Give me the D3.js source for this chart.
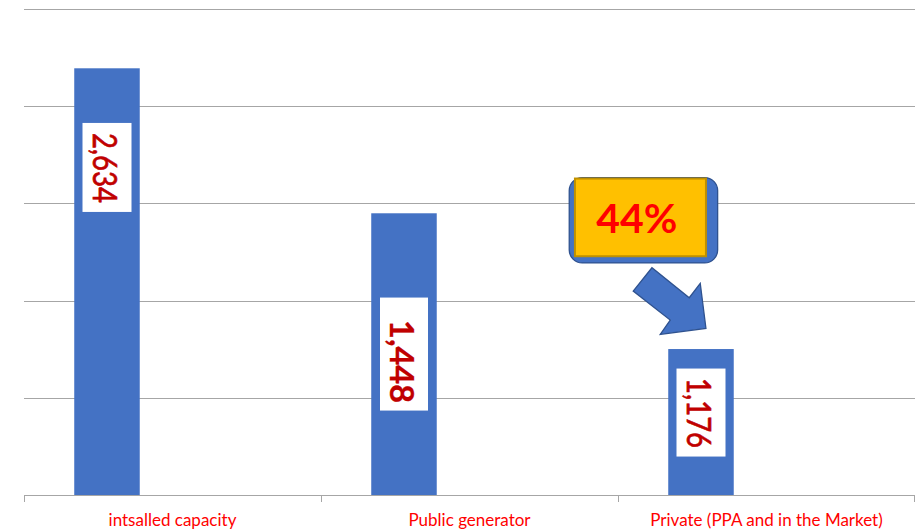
<!DOCTYPE html>
<html>
<head>
<meta charset="utf-8">
<script src="https://cdn.jsdelivr.net/npm/d3@7"></script>
<style>
  html, body { margin: 0; padding: 0; background: #fff; }
  svg { display: block; }
</style>
</head>
<body>
<div id="chart"></div>
<script>
// ---------- data ----------
const categories = ["intsalled capacity", "Public generator", "Private (PPA and in the Market)"];
const barValues = [2634, 1739, 901];          // bar heights as drawn
const valueLabels = ["2,634", "1,448", "1,176"]; // label text boxes
const labelBold = [false, true, false];
const yTicks = [0, 600, 1200, 1800, 2400, 3000];
const calloutText = "44%";

// ---------- layout ----------
const W = 915, H = 529;
const plot = { left: 24, right: 915, top: 9, bottom: 495 };
// label boxes: centre (in value units), box size, text length, text offset along flow
const labelCenterVal = [2022, 870, 509];
const labelBoxW = [49, 48, 49];
const labelBoxH = [89, 113, 88];
const labelTextLen = [70, 83, 70];
const labelTextShift = [0.5, 7.5, 0.5];

const svg = d3.select("#chart").append("svg")
  .attr("width", W).attr("height", H);

const x0 = d3.scaleBand().domain(categories).range([plot.left, plot.right]).padding(0);
const x1 = d3.scaleBand().domain(["s1", "s2", "s3"]).range([0, x0.bandwidth()])
  .paddingInner(0).paddingOuter(0.767);
const y = d3.scaleLinear().domain([0, 3000]).range([plot.bottom, plot.top]);

// gridlines
svg.append("g").selectAll("line").data(yTicks.filter(d => d > 0)).join("line")
  .attr("x1", plot.left).attr("x2", plot.right)
  .attr("y1", d => Math.round(y(d)) + 0.5).attr("y2", d => Math.round(y(d)) + 0.5)
  .attr("stroke", "#a6a6a6").attr("stroke-width", 1);

// bars
const bars = categories.map((c, i) => ({ c, v: barValues[i], i }));
svg.append("g").selectAll("rect").data(bars).join("rect")
  .attr("x", d => x0(d.c) + x1("s1"))
  .attr("width", x1.bandwidth())
  .attr("y", d => y(d.v))
  .attr("height", d => y(0) - y(d.v))
  .attr("fill", "#4472C4");

// x axis baseline + ticks
const axis = svg.append("g");
axis.append("line")
  .attr("x1", plot.left).attr("x2", plot.right)
  .attr("y1", plot.bottom + 0.5).attr("y2", plot.bottom + 0.5)
  .attr("stroke", "#a6a6a6");
const tickXs = categories.map(c => x0(c)).concat([x0(categories[categories.length - 1]) + x0.bandwidth()]);
axis.selectAll("line.tick").data(tickXs).join("line").attr("class", "tick")
  .attr("x1", d => Math.min(Math.round(d) + 0.5, W - 0.5)).attr("x2", d => Math.min(Math.round(d) + 0.5, W - 0.5))
  .attr("y1", plot.bottom).attr("y2", plot.bottom + 7)
  .attr("stroke", "#a6a6a6");
axis.selectAll("text").data(categories).join("text")
  .attr("x", d => x0(d) + x0.bandwidth() / 2)
  .attr("y", 526)
  .attr("text-anchor", "middle")
  .attr("font-family", "Lato, 'Liberation Sans', sans-serif")
  .attr("font-size", 17)
  .attr("fill", "#FF0000")
  .text(d => d);

// value label boxes (rotated text)
const lbl = svg.append("g").selectAll("g").data(bars).join("g")
  .attr("transform", d => {
    const cx = x0(d.c) + x1("s1") + x1.bandwidth() / 2;
    const cy = y(labelCenterVal[d.i]);
    return `translate(${cx},${cy})`;
  });
lbl.append("rect")
  .attr("x", d => -labelBoxW[d.i] / 2).attr("y", d => -labelBoxH[d.i] / 2)
  .attr("width", d => labelBoxW[d.i]).attr("height", d => labelBoxH[d.i])
  .attr("fill", "#ffffff");
lbl.append("text")
  .attr("transform", "rotate(90)")
  .attr("x", d => labelTextShift[d.i])
  .attr("y", 13.5)
  .attr("text-anchor", "middle")
  .attr("font-family", "Lato, 'Liberation Sans', sans-serif")
  .attr("font-weight", d => labelBold[d.i] ? 700 : 400)
  .attr("font-size", 33)
  .attr("textLength", d => labelTextLen[d.i])
  .attr("lengthAdjust", "spacingAndGlyphs")
  .attr("fill", "#C00000")
  .attr("stroke", "#C00000")
  .attr("stroke-width", d => labelBold[d.i] ? 0.3 : 0.7)
  .text(d => valueLabels[d.i]);

// callout anchored to the third bar
const b3 = bars[2];
const bx = x0(b3.c) + x1("s1");
const by = y(b3.v);
const callout = svg.append("g").attr("transform", `translate(${bx},${by})`);

const arrowPts = [[-16.3, -81.3], [-35, -58], [2, -29], [-8, -14.7], [37.7, -20.7], [32, -65.7], [21, -51.3]];
callout.append("path")
  .attr("d", d3.line()(arrowPts) + "Z")
  .attr("fill", "#4472C4")
  .attr("stroke", "#2F528F")
  .attr("stroke-width", 1.3)
  .attr("stroke-linejoin", "miter");

callout.append("rect")
  .attr("x", -99).attr("y", -171.5).attr("width", 148.4).attr("height", 85.4)
  .attr("rx", 13).attr("ry", 13)
  .attr("fill", "#4472C4").attr("stroke", "#2F528F").attr("stroke-width", 1.3);

callout.append("rect")
  .attr("x", -93.3).attr("y", -170.5).attr("width", 131).attr("height", 77.7)
  .attr("fill", "#FFC000").attr("stroke", "#BF9000").attr("stroke-width", 2);

callout.append("text")
  .attr("x", -31.5).attr("y", -115.7)
  .attr("text-anchor", "middle")
  .attr("font-family", "Lato, 'Liberation Sans', sans-serif")
  .attr("font-weight", 700)
  .attr("font-size", 41)
  .attr("fill", "#FF0000")
  .text(calloutText);
</script>
</body>
</html>
